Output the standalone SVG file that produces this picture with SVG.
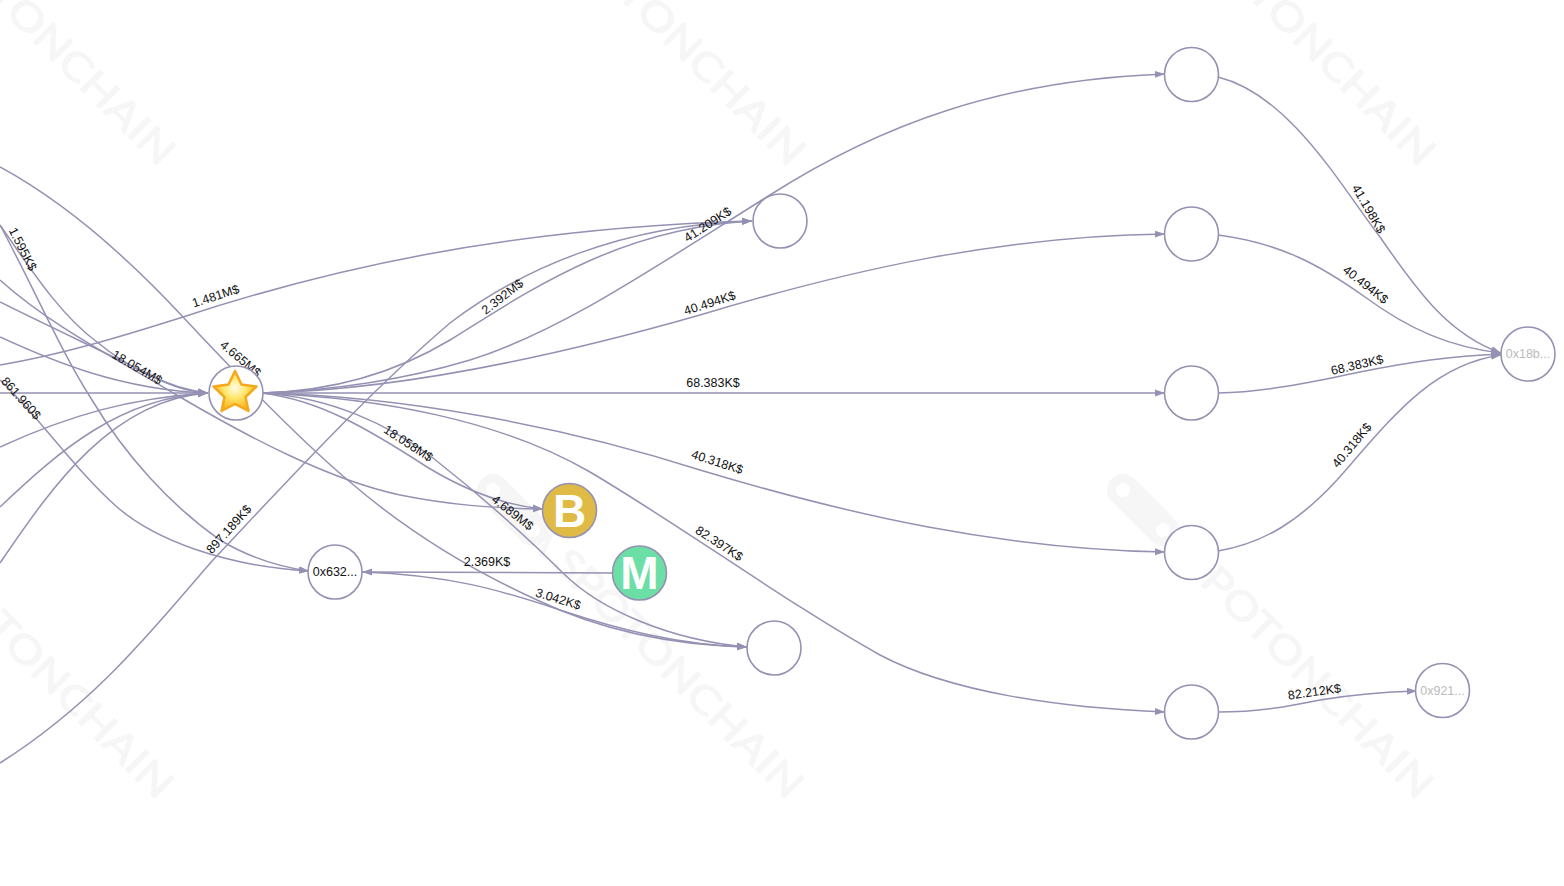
<svg xmlns="http://www.w3.org/2000/svg" width="1564" height="886" viewBox="0 0 1564 886">
<style>
text{font-family:"Liberation Sans",Arial,sans-serif}
.e{fill:none;stroke:#9491b3;stroke-width:1.5}
.a{marker-end:url(#arr)}
.l{font-size:12.5px;fill:#111;text-anchor:middle}
.n{fill:#fff;stroke:#9491b3;stroke-width:1.6}
.t{font-size:12.5px;fill:#111;text-anchor:middle}
.g{fill:#bbb}
.big{font-size:46px;font-weight:bold;fill:#fff;text-anchor:middle}
.wt{font-family:"Lato","Liberation Sans",sans-serif;font-size:39px;font-weight:400;fill:#f6f6f6;stroke:#f6f6f6;stroke-width:1}
</style>
<defs>
<marker id="arr" markerUnits="userSpaceOnUse" markerWidth="11" markerHeight="8" refX="10" refY="4" orient="auto"><path d="M0,0.500L10,4L0,7.500z" fill="#9491b3"/></marker>
<radialGradient id="sg" cx="0.5" cy="0.42" r="0.6"><stop offset="0" stop-color="#fffde8"/><stop offset="0.45" stop-color="#ffe566"/><stop offset="1" stop-color="#f7a912"/></radialGradient>
<g id="wm">
<line x1="0" y1="0" x2="40" y2="40" stroke="#f6f6f6" stroke-width="32" stroke-linecap="round"/>
<circle r="7" fill="#fff"/><circle cx="40" cy="40" r="7" fill="#fff"/>
<line x1="48" y1="67" x2="58" y2="43" stroke="#f6f6f6" stroke-width="5"/>
<text class="wt" transform="translate(58,75) rotate(45)" textLength="334" lengthAdjust="spacingAndGlyphs">SPOTONCHAIN</text>
</g>
</defs>
<g id="watermark">
<use href="#wm" x="1123" y="490"/><use href="#wm" x="493" y="490"/><use href="#wm" x="-137" y="490"/>
<use href="#wm" x="1125" y="-143"/><use href="#wm" x="495" y="-143"/><use href="#wm" x="-135" y="-143"/>
</g>
<g id="connectors">
<path class="e a" d="M0,167C70,205 130,260 183,317C240,378 300,440 350,482C400,525 460,565 537,600C600,630 670,645 747,647"/>
<path class="e a" d="M0,225C30,268 60,315 97,342C125,365 165,388 208,393"/>
<path class="e a" d="M0,280C50,325 110,355 180,397C250,438 330,480 400,495C450,505 490,508 543,509"/>
<path class="e a" d="M0,302C50,327 100,350 167,383C180,389 195,392 208,393"/>
<path class="e a" d="M0,337C50,360 120,390 208,393"/>
<path class="e a" d="M0,393L208,393"/>
<path class="e a" d="M0,447C70,415 130,398 208,393"/>
<path class="e a" d="M0,507C60,450 120,398 208,393"/>
<path class="e a" d="M0,563C50,490 110,400 208,393"/>
<path class="e a" d="M0,225C35,290 60,350 92,400C125,455 170,505 220,540C250,558 280,567 309,571"/>
<path class="e a" d="M0,380C35,412 75,470 117,507C155,540 225,566 309,571"/>
<path class="e a" d="M0,365C60,355 120,337 183,317C320,272 500,228 752,221"/>
<path class="e a" d="M0,763C100,700 160,620 213,560C270,500 360,400 450,323C520,270 620,225 752,221"/>
<path class="e a" d="M262,393C340,391 400,370 450,340C530,290 620,228 752,221"/>
<path class="e a" d="M262,393C340,390 410,378 470,360C560,332 650,270 770,195C880,125 1000,80 1165,74"/>
<path class="e a" d="M262,393C400,390 560,355 700,315C850,270 1000,236 1165,234"/>
<path class="e a" d="M262,393L1165,393"/>
<path class="e a" d="M262,393C400,396 560,425 700,470C850,515 1000,549 1165,552"/>
<path class="e a" d="M262,393C380,398 500,420 590,472C680,525 790,605 880,655C950,692 1060,708 1165,712"/>
<path class="e a" d="M262,393C320,400 370,430 427,467C460,487 500,505 543,509"/>
<path class="e a" d="M262,393C330,397 390,425 433,458C480,495 520,530 563,573C600,610 670,640 747,647"/>
<path class="e a" d="M362,572C450,575 500,590 560,610C620,630 680,645 747,647"/>
<path class="e a" d="M612,573L362,572"/>
<path class="e a" d="M1218,77C1290,95 1340,185 1380,237C1420,295 1450,335 1501,353"/>
<path class="e a" d="M1218,235C1280,243 1320,265 1365,297C1410,330 1450,347 1501,353"/>
<path class="e a" d="M1218,393C1270,392 1320,380 1360,372C1410,362 1450,356 1501,354"/>
<path class="e a" d="M1218,551C1265,543 1300,520 1337,480C1390,420 1430,365 1501,355"/>
<path class="e a" d="M1218,712C1260,712 1290,706 1320,700C1350,695 1380,692 1417,691"/>
</g>
<g id="labels">
<text class="l" transform="translate(217,300) rotate(-18)">1.481M$</text>
<text class="l" transform="translate(19,251) rotate(63)">1.595K$</text>
<text class="l" transform="translate(135,371) rotate(30)">18.054M$</text>
<text class="l" transform="translate(18,401) rotate(48)">861.960$</text>
<text class="l" transform="translate(238,362) rotate(40)">4.665M$</text>
<text class="l" transform="translate(232,532) rotate(-48)">897.189K$</text>
<text class="l" transform="translate(505,300) rotate(-38)">2.392M$</text>
<text class="l" transform="translate(710,228) rotate(-33)">41.209K$</text>
<text class="l" transform="translate(711,307) rotate(-18)">40.494K$</text>
<text class="l" transform="translate(713,387)">68.383K$</text>
<text class="l" transform="translate(716,466) rotate(18)">40.318K$</text>
<text class="l" transform="translate(717,547) rotate(33)">82.397K$</text>
<text class="l" transform="translate(406,447) rotate(33)">18.058M$</text>
<text class="l" transform="translate(510,516) rotate(38)">4.689M$</text>
<text class="l" transform="translate(487,566)">2.369K$</text>
<text class="l" transform="translate(557,603) rotate(17)">3.042K$</text>
<text class="l" transform="translate(1365,211) rotate(60)">41.198K$</text>
<text class="l" transform="translate(1363,288) rotate(38)">40.494K$</text>
<text class="l" transform="translate(1358,369) rotate(-13)">68.383K$</text>
<text class="l" transform="translate(1355,448) rotate(-50)">40.318K$</text>
<text class="l" transform="translate(1315,696) rotate(-8)">82.212K$</text>
</g>
<g id="node-star"><circle class="n" cx="236" cy="393" r="27"/>
<path d="M235,371L241.500,384.500L256.500,386.500L245.500,397L248.500,411L235,404L221.500,411L224.500,397L213.500,386.500L228.500,384.500Z" fill="url(#sg)" stroke="#f5a81c" stroke-width="2.500" stroke-linejoin="round"/></g>
<g id="node-b"><circle class="n" cx="569.500" cy="510.500" r="27" style="fill:#dfbb45"/><text class="big" x="569.500" y="527">B</text></g>
<g id="node-m"><circle class="n" cx="639.500" cy="573" r="27" style="fill:#6cdfa6"/><text class="big" x="639.500" y="589">M</text></g>
<g id="node-632"><circle class="n" cx="335" cy="572" r="27"/><text class="t" x="335" y="576">0x632...</text></g>
<g id="node-top"><circle class="n" cx="780" cy="221" r="27"/></g>
<g id="node-bottom"><circle class="n" cx="774" cy="648" r="27"/></g>
<g id="node-r1"><circle class="n" cx="1191.500" cy="74.500" r="27"/></g>
<g id="node-r2"><circle class="n" cx="1191.500" cy="234" r="27"/></g>
<g id="node-r3"><circle class="n" cx="1191.500" cy="393" r="27"/></g>
<g id="node-r4"><circle class="n" cx="1191.500" cy="552.500" r="27"/></g>
<g id="node-r5"><circle class="n" cx="1191.500" cy="712" r="27"/></g>
<g id="node-18b"><circle class="n" cx="1528" cy="354" r="27"/><text class="t g" x="1528" y="358">0x18b...</text></g>
<g id="node-921"><circle class="n" cx="1442.500" cy="690.500" r="27"/><text class="t g" x="1442.500" y="695">0x921...</text></g>
</svg>
